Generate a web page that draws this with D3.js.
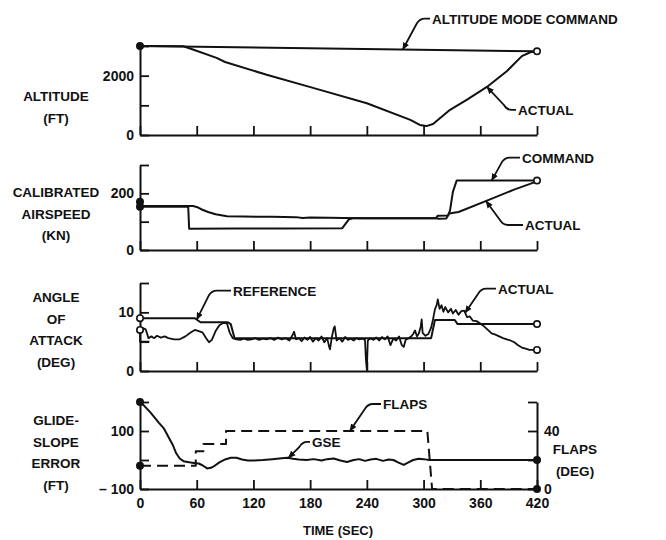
<!DOCTYPE html>
<html>
<head>
<meta charset="utf-8">
<script src="https://cdn.jsdelivr.net/npm/d3@7"></script>
<style>
  body { margin: 0; background: #fff; }
  text { font-family: "Liberation Sans", Arial, Helvetica, sans-serif; font-weight: bold; fill: #111; }
</style>
</head>
<body>
<svg id="chart" width="666" height="540"></svg>
<script>
// ---- data: [time (s), value] ----
const timeTicks = [0, 60, 120, 180, 240, 300, 360, 420];

const altitudeCommand = [[0, 3000], [420, 2820]];
const altitudeActual = [
  [0, 3000], [46, 2990], [56, 2880], [81, 2600], [90, 2460], [134, 2030], [184, 1580],
  [240, 1070], [286, 510], [296, 340], [303, 300], [310, 370], [328, 850], [346, 1190],
  [367, 1620], [388, 2150], [404, 2660], [413, 2790], [420, 2820]
];

const airspeedCommand = [
  [0, 153], [51, 153], [52, 75], [100, 76], [150, 76], [214, 77], [218, 95], [221, 108],
  [225, 112], [313, 112], [315, 121], [326, 122], [328, 140], [331, 205], [335, 245], [420, 245]
];
const airspeedActual = [
  [0, 170], [3, 156], [10, 155], [56, 155], [60, 152], [66, 142], [72, 134], [80, 126],
  [92, 119], [110, 118], [140, 117], [165, 116], [172, 113], [180, 115], [200, 114],
  [215, 113], [240, 112], [280, 112], [313, 112], [316, 110], [324, 111], [327, 129],
  [337, 134], [369, 177], [395, 212], [420, 242]
];

const aoaReference = [
  [0, 9], [58, 9], [64, 8.3], [93, 8.3], [96, 8.0], [100, 5.6], [308, 5.6], [312, 8.7],
  [333, 8.7], [336, 8.0], [420, 8.0]
];
const aoaActual = [
  [10, 5], [0, 5], [0, 7], [3, 7.3], [6, 7.1], [9, 5.6], [12, 5.9], [15, 5.6], [18, 6.0],
  [22, 5.7], [26, 5.9], [30, 5.6], [36, 5.4], [42, 5.4], [48, 5.9], [54, 6.6], [58, 7.0],
  [62, 6.8], [66, 6.6], [70, 5.6], [73, 4.9], [76, 5.3], [80, 6.8], [84, 7.8], [88, 8.2],
  [92, 8.1], [95, 6.5], [98, 5.6], [102, 5.4], [106, 5.3], [110, 5.5], [114, 5.3], [118, 5.4],
  [122, 5.6], [126, 5.3], [130, 5.5], [134, 5.4], [138, 5.6], [142, 5.3], [146, 5.7],
  [150, 5.4], [154, 5.6], [158, 5.2], [161, 6.0], [163, 6.7], [165, 5.4], [168, 5.6],
  [171, 5.1], [174, 5.7], [177, 5.3], [180, 5.8], [183, 5.0], [186, 5.6], [189, 5.2],
  [192, 5.9], [195, 4.9], [198, 5.6], [200, 4.2], [201, 3.7], [203, 5.8], [205, 7.3],
  [206, 7.6], [208, 5.2], [211, 5.6], [214, 5.0], [217, 5.8], [220, 5.3], [223, 5.5],
  [226, 5.2], [229, 5.6], [232, 5.4], [235, 5.5], [238, 5.3], [239, 2.0], [240, 0.2],
  [241, 5.2], [244, 5.6], [247, 5.3], [250, 5.7], [253, 5.2], [256, 5.8], [259, 5.4],
  [262, 5.9], [265, 4.4], [268, 5.5], [271, 5.2], [274, 5.9], [277, 4.4], [279, 4.1],
  [281, 5.3], [284, 5.6], [287, 5.9], [289, 6.3], [291, 6.9], [293, 5.9], [295, 6.4],
  [297, 7.6], [298, 8.8], [299, 6.5], [302, 6.0], [305, 6.3], [308, 7.4], [310, 8.8],
  [312, 10.5], [314, 11.3], [315, 12.2], [317, 10.6], [319, 11.2], [321, 10.1], [323, 10.9],
  [326, 10.0], [329, 10.6], [331, 9.8], [334, 10.4], [337, 9.6], [340, 10.2], [343, 10.3],
  [346, 9.2], [349, 9.3], [352, 8.6], [356, 8.5], [360, 8.1], [364, 7.6], [368, 7.0],
  [372, 6.4], [376, 6.2], [380, 5.9], [384, 5.6], [388, 5.4], [392, 5.2], [396, 4.9],
  [400, 4.4], [404, 4.0], [408, 3.8], [412, 3.6], [416, 3.6], [420, 3.6]
];

const glideSlopeError = [
  [0, 200], [5, 185], [11, 164], [20, 128], [25, 110], [30, 80], [35, 50], [38, 25],
  [42, 5], [46, -4], [52, -8], [57, -10], [62, -12], [66, -18], [71, -29], [75, -27],
  [79, -20], [84, -8], [90, 2], [96, 8], [102, 8], [108, 2], [114, -2], [120, -2],
  [130, 0], [140, 3], [150, 6], [156, 8], [162, 4], [168, 2], [176, 0], [184, 3],
  [192, -2], [198, 3], [205, 5], [212, -2], [219, -7], [226, 0], [232, 3], [238, -3],
  [244, 2], [250, 4], [257, -3], [263, 2], [268, 0], [273, -8], [279, -17], [284, -8],
  [289, 0], [295, 4], [300, 3], [306, 0], [420, 0]
];
const flaps = [
  [0, 16], [59, 16], [59, 26], [67, 26], [67, 31], [91, 31], [91, 40], [304, 40],
  [309, 0], [420, 0]
];

// axis ticks and their printed labels
const altTicks = [0, 1000, 2000, 3000], altLabels = {0: "0", 2000: "2000"};
const casTicks = [0, 100, 200, 300], casLabels = {0: "0", 200: "200"};
const aoaTicks = [0, 5, 10, 15], aoaLabels = {0: "0", 10: "10"};
const gseTicks = [-100, 0, 100, 200], gseLabels = {"-100": "\u2013 100", 100: "100"};
const flapTicks = [0, 20, 40, 60], flapLabels = {0: "0", 40: "40"};

// ---- drawing ----
const svg = d3.select("#chart");
const ink = "#111";
const x = d3.scaleLinear().domain([0, 420]).range([140, 537]);

const yAlt = d3.scaleLinear().domain([0, 3000]).range([135, 46]);
const yCas = d3.scaleLinear().domain([0, 300]).range([250, 165]);
const yAoa = d3.scaleLinear().domain([0, 15]).range([371, 283]);
const yGse = d3.scaleLinear().domain([-100, 200]).range([489, 402]);
const yFlap = d3.scaleLinear().domain([0, 60]).range([489, 402]);

const defs = svg.append("defs");
defs.append("marker")
  .attr("id", "tip").attr("viewBox", "0 -4 8 8")
  .attr("refX", 7).attr("refY", 0)
  .attr("markerWidth", 8).attr("markerHeight", 8)
  .attr("markerUnits", "userSpaceOnUse")
  .attr("orient", "auto-start-reverse")
  .append("path").attr("d", "M0,-3.2L7.5,0L0,3.2Z").attr("fill", ink);

function styleAxis(g) {
  g.select(".domain").attr("stroke", ink).attr("stroke-width", 2);
  g.selectAll(".tick line").attr("stroke", ink).attr("stroke-width", 1.8);
  g.selectAll(".tick text").attr("fill", ink).style("font-size", "14px")
    .style("font-family", '"Liberation Sans", Arial, sans-serif').style("font-weight", "bold");
}

function panel(y, ticks, labels, showTime) {
  const gx = svg.append("g").attr("transform", `translate(0,${y.range()[0]})`)
    .call(d3.axisBottom(x).tickValues(timeTicks).tickSizeInner(-9).tickSizeOuter(0)
      .tickPadding(9).tickFormat(d => showTime ? d : ""));
  styleAxis(gx);
  const gy = svg.append("g").attr("transform", `translate(${x(0)},0)`)
    .call(d3.axisLeft(y).tickValues(ticks).tickSizeInner(-9).tickSizeOuter(0)
      .tickPadding(6).tickFormat(d => labels[d] || ""));
  styleAxis(gy);
}

panel(yAlt, altTicks, altLabels, false);
panel(yCas, casTicks, casLabels, false);
panel(yAoa, aoaTicks, aoaLabels, false);
panel(yGse, gseTicks, gseLabels, true);

const gr = svg.append("g").attr("transform", `translate(${x(420)},0)`)
  .call(d3.axisRight(yFlap).tickValues(flapTicks).tickSizeInner(-9).tickSizeOuter(0)
    .tickPadding(7).tickFormat(d => flapLabels[d] || ""));
styleAxis(gr);

function series(data, y, opts = {}) {
  const line = d3.line().x(d => x(d[0])).y(d => y(d[1]));
  svg.append("path").datum(data).attr("d", line)
    .attr("fill", "none").attr("stroke", ink)
    .attr("stroke-width", opts.width || 2)
    .attr("stroke-linejoin", "round")
    .attr("stroke-dasharray", opts.dash || null);
}

function dot(t, v, y, open) {
  svg.append("circle").attr("cx", x(t)).attr("cy", y(v)).attr("r", 3.2)
    .attr("fill", open ? "#fff" : ink).attr("stroke", ink).attr("stroke-width", 1.6);
}

series(altitudeCommand, yAlt);
series(altitudeActual, yAlt);
series(airspeedCommand, yCas);
series(airspeedActual, yCas);
series(aoaReference, yAoa);
series(aoaActual, yAoa, {width: 1.8});
series(glideSlopeError, yGse);
series(flaps, yFlap, {dash: "11,6"});

dot(0, 3000, yAlt, false); dot(420, 2820, yAlt, true);
dot(0, 170, yCas, false); dot(0, 153, yCas, false); dot(420, 245, yCas, true);
dot(0, 9, yAoa, true); dot(0, 7, yAoa, true); dot(420, 8, yAoa, true); dot(420, 3.6, yAoa, true);
dot(0, 200, yGse, false); dot(0, 16, yFlap, false); dot(420, 0, yGse, false); dot(420, 0, yFlap, false);

// value of a series at time t (linear interpolation over the monotone part)
function valueAt(data, t) {
  for (let i = 1; i < data.length; i++) {
    const a = data[i - 1], b = data[i];
    if (b[0] > a[0] && t >= a[0] && t <= b[0]) {
      return a[1] + (b[1] - a[1]) * (t - a[0]) / (b[0] - a[0]);
    }
  }
  return data[data.length - 1][1];
}

// leader callouts: anchored on a series, bending to a horizontal run into the label
const callouts = [
  {data: altitudeCommand, y: yAlt, t: 278, dx: 17, dy: -31, textX: 432, label: "ALTITUDE MODE COMMAND"},
  {data: altitudeActual, y: yAlt, t: 367, dx: 20, dy: 23, textX: 518, label: "ACTUAL"},
  {data: airspeedCommand, y: yCas, t: 372, dx: 13, dy: -23, textX: 522, label: "COMMAND"},
  {data: airspeedActual, y: yCas, t: 366, dx: 17, dy: 24, textX: 525, label: "ACTUAL"},
  {data: aoaReference, y: yAoa, t: 60, dx: 15, dy: -29, textX: 233, label: "REFERENCE"},
  {data: aoaActual, y: yAoa, t: 344, dx: 16, dy: -24, textX: 498, label: "ACTUAL"},
  {data: flaps, y: yFlap, t: 222, dx: 18, dy: -27, textX: 383, label: "FLAPS"},
  {data: glideSlopeError, y: yGse, t: 157, dx: 14, dy: -16, textX: 312, label: "GSE"}
];

callouts.forEach(c => {
  const ax = x(c.t), ay = c.y(valueAt(c.data, c.t));
  const bx = ax + c.dx, by = ay + c.dy;
  const r = 5;
  const sx = bx - Math.sign(c.dx) * r * 0.6, sy = by - Math.sign(c.dy) * r;
  svg.append("path")
    .attr("d", `M${ax},${ay}L${sx},${sy}Q${bx},${by} ${bx + r},${by}L${c.textX - 2},${by}`)
    .attr("fill", "none").attr("stroke", ink).attr("stroke-width", 1.8)
    .attr("marker-start", "url(#tip)");
  svg.append("text").attr("x", c.textX).attr("y", by + 5)
    .style("font-size", "13.5px").text(c.label);
});

// left-hand quantity labels
const leftLabels = [
  {lines: ["ALTITUDE", "(FT)"], y: 96},
  {lines: ["CALIBRATED", "AIRSPEED", "(KN)"], y: 192},
  {lines: ["ANGLE", "OF", "ATTACK", "(DEG)"], y: 297},
  {lines: ["GLIDE-", "SLOPE", "ERROR", "(FT)"], y: 420}
];
leftLabels.forEach(l => {
  l.lines.forEach((s, i) => {
    svg.append("text").attr("x", 56).attr("y", l.y + 5 + i * 21.5)
      .attr("text-anchor", "middle").style("font-size", "13.5px").text(s);
  });
});

["FLAPS", "(DEG)"].forEach((s, i) => {
  svg.append("text").attr("x", 575).attr("y", 454 + i * 22)
    .attr("text-anchor", "middle").style("font-size", "13.5px").text(s);
});

svg.append("text").attr("x", 338).attr("y", 535).attr("text-anchor", "middle")
  .style("font-size", "13px").text("TIME (SEC)");
</script>
</body>
</html>
